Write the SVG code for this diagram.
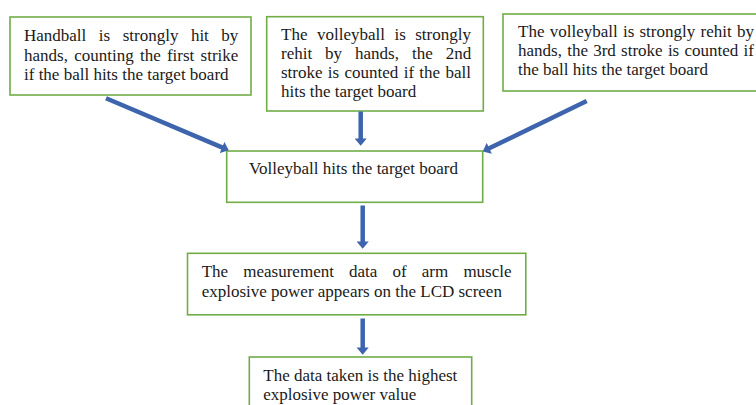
<svg xmlns="http://www.w3.org/2000/svg" width="756" height="405" viewBox="0 0 756 405">
  <style>
    .box { fill: #ffffff; stroke: #70AD47; stroke-width: 1.6; }
    .t { font-family: "Liberation Serif", "Times New Roman", serif; font-size: 17px; fill: #1a1a1a; }
    .arrow { stroke: #3D64AC; stroke-width: 4.5; fill: none; marker-end: url(#head); }
  </style>
  <defs>
    <marker id="head" markerUnits="userSpaceOnUse" markerWidth="8" markerHeight="12" refX="2" refY="5" orient="auto" viewBox="0 0 6 10">
      <path d="M0,0 L6,5 L0,10 z" fill="#3D64AC"/>
    </marker>
  </defs>
  <rect x="0" y="0" width="756" height="405" fill="#ffffff"/>

  <g id="node-handball">
    <rect class="box" x="10" y="17" width="241" height="78"/>
    <text class="t" x="24" y="41" style="word-spacing:8.25px">Handball is strongly hit by</text>
    <text class="t" x="24" y="60.5" style="word-spacing:2px">hands, counting the first strike</text>
    <text class="t" x="24" y="80">if the ball hits the target board</text>
  </g>

  <g id="node-second">
    <rect class="box" x="266.7" y="16.7" width="216.6" height="94.3"/>
    <text class="t" x="281" y="40" style="word-spacing:5.25px">The volleyball is strongly</text>
    <text class="t" x="281" y="59.3" style="word-spacing:8.7px">rehit by hands, the 2nd</text>
    <text class="t" x="281" y="78" style="word-spacing:1.07px">stroke is counted if the ball</text>
    <text class="t" x="281" y="97">hits the target board</text>
  </g>

  <g id="node-third">
    <rect class="box" x="503" y="14" width="260" height="77"/>
    <text class="t" x="518" y="37" style="word-spacing:1px">The volleyball is strongly rehit by</text>
    <text class="t" x="518" y="56" style="word-spacing:1px">hands, the 3rd stroke is counted if</text>
    <text class="t" x="518" y="75">the ball hits the target board</text>
  </g>

  <g id="node-hits">
    <rect class="box" x="226.7" y="151" width="256" height="51.3"/>
    <text class="t" x="249" y="174">Volleyball hits the target board</text>
  </g>

  <g id="node-measurement">
    <rect class="box" x="187.5" y="253.3" width="338.3" height="61.5"/>
    <text class="t" x="201.7" y="277.3" style="word-spacing:10.9px">The measurement data of arm muscle</text>
    <text class="t" x="201.7" y="297.3">explosive power appears on the LCD screen</text>
  </g>

  <g id="node-highest">
    <rect class="box" x="249.3" y="357" width="222.4" height="60"/>
    <text class="t" x="263.3" y="381">The data taken is the highest</text>
    <text class="t" x="263.3" y="400">explosive power value</text>
  </g>

  <g id="connectors">
    <line class="arrow" x1="106" y1="98.3" x2="224.3" y2="148.4"/>
    <line class="arrow" x1="360.7" y1="111.5" x2="360.7" y2="141"/>
    <line class="arrow" x1="586.7" y1="101" x2="487.1" y2="149.3"/>
    <line class="arrow" x1="362.7" y1="205.5" x2="362.7" y2="244"/>
    <line class="arrow" x1="362.7" y1="318.5" x2="362.7" y2="350"/>
  </g>
</svg>
